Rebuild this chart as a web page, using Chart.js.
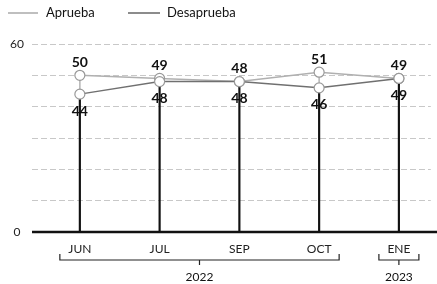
<!DOCTYPE html>
<html>
<head>
<meta charset="utf-8">
<script src="https://cdn.jsdelivr.net/npm/chart.js@4"></script>
<style>
html, body { margin: 0; padding: 0; background: #fff; }
#wrap { width: 437px; height: 284px; position: relative; }
</style>
</head>
<body>
<div id="wrap"><canvas id="chart"></canvas></div>
<script>
const meses = ['JUN', 'JUL', 'SEP', 'OCT', 'ENE']
const aprueba = [50, 49, 48, 51, 49]
const desaprueba = [44, 48, 48, 46, 49]
const anios = [
    { texto: '2022', desde: 0, hasta: 3 },
    { texto: '2023', desde: 4, hasta: 4 }
]

const fuente = 'Lato, "Open Sans", sans-serif'

// linea base de cada mes hasta el valor menor, y tramo gris entre ambos
const bajo = aprueba.map(function(v, i){ return { x: i, y: Math.min(v, desaprueba[i]) } })
const tramo = aprueba.map(function(v, i){ return { x: i, y: [Math.min(v, desaprueba[i]), Math.max(v, desaprueba[i])] } })

const extras = {
    id: 'extras',
    afterDatasetsDraw(chart){
        const ctx = chart.ctx
        const x = chart.scales.x
        const y = chart.scales.y
        const area = chart.chartArea

        // eje en cero
        ctx.save()
        ctx.strokeStyle = '#111'
        ctx.lineWidth = 2.5
        ctx.beginPath()
        ctx.moveTo(area.left, y.getPixelForValue(0))
        ctx.lineTo(chart.width, y.getPixelForValue(0))
        ctx.stroke()

        // etiquetas de valores
        ctx.fillStyle = '#111'
        ctx.font = 'bold 14px ' + fuente
        ctx.textAlign = 'center'
        ctx.textBaseline = 'middle'
        aprueba.forEach(function(v, i){
            ctx.fillText(v, x.getPixelForValue(i), y.getPixelForValue(v) - 13)
        })
        desaprueba.forEach(function(v, i){
            ctx.fillText(v, x.getPixelForValue(i), y.getPixelForValue(v) + 17)
        })

        // llaves de los años
        ctx.strokeStyle = '#222'
        ctx.lineWidth = 1.2
        ctx.font = '12px ' + fuente
        anios.forEach(function(a){
            var x1 = x.getPixelForValue(a.desde) - 20
            var x2 = x.getPixelForValue(a.hasta) + 20
            var yb = 260
            var xm = (x1 + x2) / 2
            ctx.beginPath()
            ctx.moveTo(x1, yb - 6)
            ctx.lineTo(x1, yb)
            ctx.lineTo(x2, yb)
            ctx.lineTo(x2, yb - 6)
            ctx.moveTo(xm, yb)
            ctx.lineTo(xm, yb + 5)
            ctx.stroke()
            ctx.fillText(a.texto, xm, 277)
        })

        // leyenda
        ctx.font = '13px ' + fuente
        ctx.textAlign = 'left'
        ctx.lineWidth = 1.5
        ctx.strokeStyle = '#aaa'
        ctx.beginPath(); ctx.moveTo(8, 13); ctx.lineTo(38, 13); ctx.stroke()
        ctx.fillText('Aprueba', 46, 13)
        ctx.strokeStyle = '#666'
        ctx.beginPath(); ctx.moveTo(128, 13); ctx.lineTo(160, 13); ctx.stroke()
        ctx.fillText('Desaprueba', 167, 13)
        ctx.restore()
    }
}

new Chart(document.getElementById('chart'), {
    type: 'line',
    data: {
        datasets: [{
            label: 'Aprueba',
            data: aprueba.map(function(v, i){ return { x: i, y: v } }),
            borderColor: '#b0b0b0',
            borderWidth: 1.5,
            pointRadius: 5,
            pointBackgroundColor: '#fff',
            pointBorderColor: '#999',
            pointBorderWidth: 1.2,
            order: 1
        }, {
            label: 'Desaprueba',
            data: desaprueba.map(function(v, i){ return { x: i, y: v } }),
            borderColor: '#707070',
            borderWidth: 1.5,
            pointRadius: 5,
            pointBackgroundColor: '#fff',
            pointBorderColor: '#999',
            pointBorderWidth: 1.2,
            order: 0
        }, {
            type: 'bar',
            data: bajo,
            backgroundColor: '#111',
            barThickness: 1.5,
            grouped: false,
            order: 3
        }, {
            type: 'bar',
            data: tramo,
            backgroundColor: '#bbb',
            barThickness: 1,
            grouped: false,
            order: 2
        }]
    },
    options: {
        responsive: true,
        maintainAspectRatio: false,
        animation: false,
        layout: { padding: { top: 44, right: 0, bottom: 0, left: 0 } },
        scales: {
            x: {
                type: 'linear',
                offset: false,
                min: -0.6,
                max: 4.4,
                afterBuildTicks: function(axis){
                    axis.ticks = meses.map(function(m, i){ return { value: i } })
                },
                afterFit: function(axis){ axis.height = 52 },
                grid: { display: false, drawTicks: false },
                border: { display: false },
                ticks: {
                    padding: 10,
                    color: '#222',
                    font: { family: fuente, size: 12 },
                    callback: function(v){ return meses[v] }
                }
            },
            y: {
                min: 0,
                max: 60,
                afterFit: function(axis){ axis.width = 32 },
                grid: { color: '#c8c8c8', lineWidth: 1, drawTicks: false },
                border: { display: false, dash: [6, 3] },
                ticks: {
                    stepSize: 10,
                    padding: 8,
                    crossAlign: 'center',
                    color: '#222',
                    font: { family: fuente, size: 12 },
                    callback: function(v){ return (v === 0 || v === 60) ? v : '' }
                }
            }
        },
        plugins: {
            legend: { display: false },
            tooltip: { enabled: false }
        }
    },
    plugins: [extras]
})
</script>
</body>
</html>
